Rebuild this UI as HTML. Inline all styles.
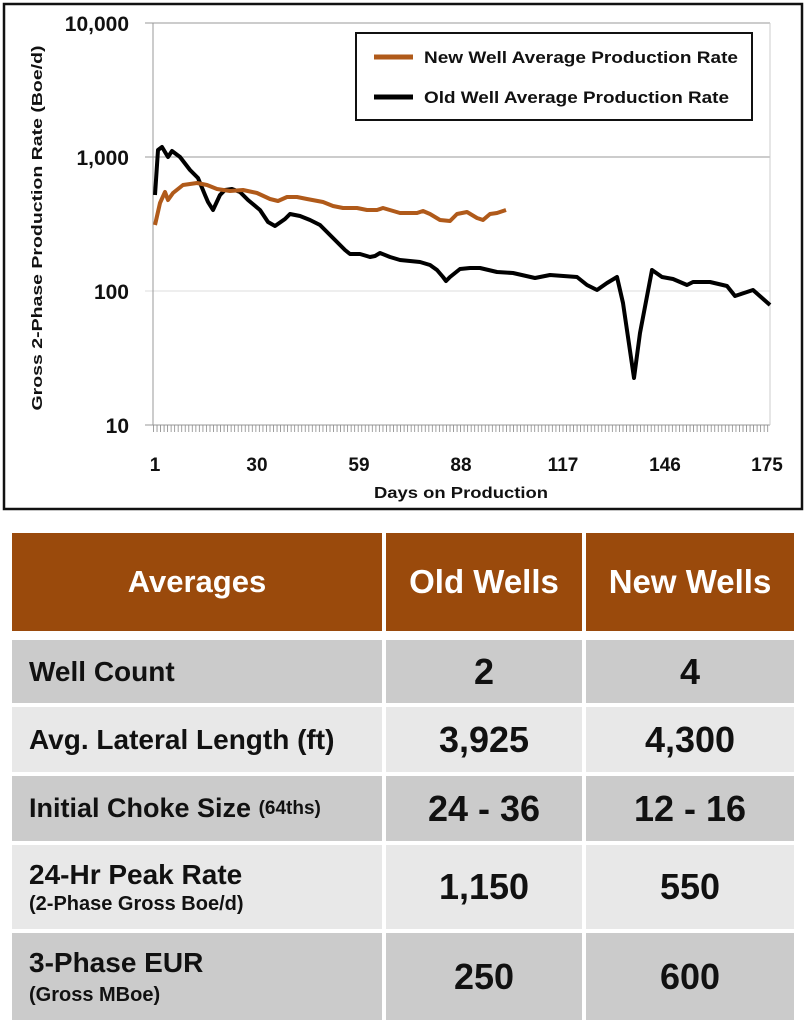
<!DOCTYPE html>
<html><head><meta charset="utf-8"><style>
body{margin:0;background:#fff;width:806px;height:1024px;overflow:hidden;position:relative;font-family:"Liberation Sans",sans-serif}
svg{position:absolute;left:0;top:0}
.c{position:absolute;display:flex;align-items:center;font-weight:bold;color:#111;white-space:nowrap}
</style></head><body>
<svg width="806" height="520" viewBox="0 0 806 520">
<defs><pattern id="tk" x="153" y="0" width="3.53" height="520" patternUnits="userSpaceOnUse"><line x1="0.5" y1="0" x2="0.5" y2="520" stroke="#888" stroke-width="0.8"/></pattern></defs>
<rect x="4" y="4" width="798" height="505" fill="#fff" stroke="#111" stroke-width="2.5"/>
<line x1="145" y1="23" x2="770" y2="23" stroke="#999" stroke-width="1"/>
<line x1="145" y1="157" x2="770" y2="157" stroke="#999" stroke-width="1"/>
<line x1="145" y1="291" x2="770" y2="291" stroke="#ddd" stroke-width="1"/>
<line x1="145" y1="425" x2="770" y2="425" stroke="#999" stroke-width="1"/>
<line x1="153" y1="23" x2="153" y2="425" stroke="#999" stroke-width="1"/>
<line x1="770" y1="23" x2="770" y2="425" stroke="#ccc" stroke-width="1"/>
<rect x="153" y="425" width="617" height="7" fill="url(#tk)"/>
<g font-weight="bold" font-size="21" text-anchor="end" fill="#111">
<text x="129" y="31">10,000</text><text x="129" y="165">1,000</text><text x="129" y="299">100</text><text x="129" y="433">10</text>
</g>
<g font-weight="bold" font-size="19" text-anchor="middle" fill="#111">
<text x="155" y="471">1</text><text x="257" y="471">30</text><text x="359" y="471">59</text><text x="461" y="471">88</text><text x="563" y="471">117</text><text x="665" y="471">146</text><text x="767" y="471">175</text>
</g>
<text x="461" y="498" font-weight="bold" font-size="16" text-anchor="middle" fill="#111" textLength="174" lengthAdjust="spacingAndGlyphs">Days on Production</text>
<text transform="translate(42,228) rotate(-90)" font-weight="bold" font-size="15" text-anchor="middle" fill="#111" textLength="365" lengthAdjust="spacingAndGlyphs">Gross 2-Phase Production Rate  (Boe/d)</text>
<polyline fill="none" stroke="#000" stroke-width="4" stroke-linejoin="round" points="155,195 158,150 162,147 168,157 172,151 180,157 190,170 198,178 205,195 208,202 213,210 220,195 225,190 232,189 240,192 248,200 260,210 268,222 275,226 285,219 290,214 300,216 310,220 320,225 330,235 340,245 345,250 350,254 360,254 370,257 375,256 380,253 390,257 400,260 410,261 420,262 430,265 437,270 443,277 446,281 450,277 460,269 470,268 480,268 497,272 513,273 535,278 550,275 577,277 587,285 597,290 607,283 617,277 623,303 634,378 640,333 652,270 662,277 673,279 687,285 693,282 710,282 727,286 735,296 753,290 770,305"/>
<polyline fill="none" stroke="#b05a1a" stroke-width="4" stroke-linejoin="round" points="155,225 160,203 165,192 168,200 173,193 183,185 197,183 207,185 217,189 230,191 243,190 257,193 270,199 278,201 287,197 297,197 307,199 323,202 333,206 343,208 357,208 367,210 377,210 383,208 400,213 417,213 423,211 430,214 440,220 450,221 457,214 467,212 477,218 483,220 490,214 497,213 506,210"/>
<rect x="356" y="33" width="396" height="87" fill="#fff" stroke="#111" stroke-width="2"/>
<line x1="374" y1="57" x2="413" y2="57" stroke="#b05a1a" stroke-width="5"/>
<line x1="374" y1="97" x2="413" y2="97" stroke="#000" stroke-width="5"/>
<g font-weight="bold" font-size="17" fill="#111">
<text x="424" y="63" textLength="314" lengthAdjust="spacingAndGlyphs">New Well Average Production Rate</text>
<text x="424" y="103" textLength="305" lengthAdjust="spacingAndGlyphs">Old Well Average Production Rate</text>
</g>
</svg>
<div class="c" style="left:12px;top:533px;width:370px;height:98px;background:#9a4a0c;color:#fff;justify-content:center;font-size:31px">Averages</div>
<div class="c" style="left:386px;top:533px;width:196px;height:98px;background:#9a4a0c;color:#fff;justify-content:center;font-size:33px">Old Wells</div>
<div class="c" style="left:586px;top:533px;width:208px;height:98px;background:#9a4a0c;color:#fff;justify-content:center;font-size:33px">New Wells</div>

<div class="c" style="left:12px;top:640px;width:370px;height:63px;background:#cbcbcb;padding-left:17px;box-sizing:border-box;font-size:28px">Well Count</div>
<div class="c" style="left:386px;top:640px;width:196px;height:63px;background:#cbcbcb;justify-content:center;font-size:36px">2</div>
<div class="c" style="left:586px;top:640px;width:208px;height:63px;background:#cbcbcb;justify-content:center;font-size:36px">4</div>

<div class="c" style="left:12px;top:707px;width:370px;height:65px;background:#e8e8e8;padding-left:17px;box-sizing:border-box;font-size:28px">Avg. Lateral Length (ft)</div>
<div class="c" style="left:386px;top:707px;width:196px;height:65px;background:#e8e8e8;justify-content:center;font-size:36px">3,925</div>
<div class="c" style="left:586px;top:707px;width:208px;height:65px;background:#e8e8e8;justify-content:center;font-size:36px">4,300</div>

<div class="c" style="left:12px;top:776px;width:370px;height:65px;background:#cbcbcb;padding-left:17px;box-sizing:border-box;font-size:27px">Initial Choke Size&nbsp;<span style="font-size:19px">(64ths)</span></div>
<div class="c" style="left:386px;top:776px;width:196px;height:65px;background:#cbcbcb;justify-content:center;font-size:36px">24 - 36</div>
<div class="c" style="left:586px;top:776px;width:208px;height:65px;background:#cbcbcb;justify-content:center;font-size:36px">12 - 16</div>

<div class="c" style="left:12px;top:845px;width:370px;height:84px;background:#e8e8e8;padding-left:17px;box-sizing:border-box;font-size:28px;flex-direction:column;align-items:flex-start;justify-content:center;line-height:1.2">24-Hr Peak Rate<span style="font-size:20px">(2-Phase Gross Boe/d)</span></div>
<div class="c" style="left:386px;top:845px;width:196px;height:84px;background:#e8e8e8;justify-content:center;font-size:36px">1,150</div>
<div class="c" style="left:586px;top:845px;width:208px;height:84px;background:#e8e8e8;justify-content:center;font-size:36px">550</div>

<div class="c" style="left:12px;top:933px;width:370px;height:87px;background:#cbcbcb;padding-left:17px;box-sizing:border-box;font-size:28px;flex-direction:column;align-items:flex-start;justify-content:center;line-height:1.3">3-Phase EUR<span style="font-size:20px">(Gross MBoe)</span></div>
<div class="c" style="left:386px;top:933px;width:196px;height:87px;background:#cbcbcb;justify-content:center;font-size:36px">250</div>
<div class="c" style="left:586px;top:933px;width:208px;height:87px;background:#cbcbcb;justify-content:center;font-size:36px">600</div>
</body></html>
